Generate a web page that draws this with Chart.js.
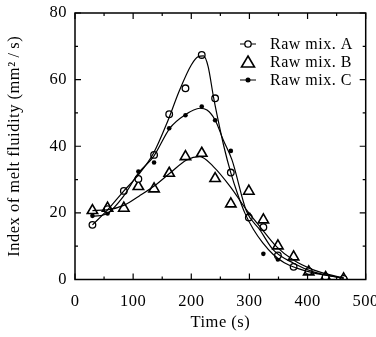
<!DOCTYPE html>
<html><head><meta charset="utf-8">
<script src="https://cdn.jsdelivr.net/npm/chart.js@4/dist/chart.umd.min.js"></script>
<style>html,body{margin:0;padding:0;background:#fff}#wrap{width:376px;height:337px}</style>
</head><body><div id="wrap"><canvas id="c" width="376" height="337"></canvas></div>
<script>
// Measured sample times (s)
const times = [30, 56, 84, 109, 136, 162, 190, 218, 241, 268, 299, 324, 349, 376, 402, 431, 462];
// Index of melt fluidity (mm^2/s) markers
const rawA = [16.4, 21.1, 26.6, 30.2, 37.4, 49.6, 57.4, 67.4, 54.4, 32.1, 18.6, 15.7, 7.2, 3.8, 2.5, 0.8, 0.2];
const rawB = [20.7, 21.4, 21.4, 27.9, 27.2, 31.9, 36.9, 37.9, 30.3, 22.7, 26.5, 17.9, 10.1, 6.8, 2.3, 0.6, 0.2];
const rawC = [19.1, 19.8, 26.5, 32.4, 35.1, 45.4, 49.3, 51.9, 47.8, 38.6, 19.5, 7.7, 6.0, 4.2, 2.5, 1.0, 0.3];
// Fitted curves
const fitAx = [30, 56, 83, 109, 135, 158, 180, 200, 212, 221, 229, 238, 246, 256, 268, 280, 292, 307, 323, 341, 360, 380, 410, 440, 462];
const fitAy = [16.4, 20.9, 26.4, 31.4, 37.9, 46.9, 56.9, 64.4, 66.9, 67.1, 63.9, 55.0, 48.0, 40.0, 32.0, 25.5, 20.0, 15.0, 11.0, 7.5, 5.0, 3.5, 2.0, 1.0, 0.4];
const fitBx = [30, 55, 86, 110, 135, 163, 192, 215, 238, 267, 295, 318, 347, 375, 410, 462];
const fitBy = [20.7, 20.9, 22.4, 25.0, 27.9, 31.9, 35.9, 36.9, 33.9, 27.9, 20.9, 15.9, 9.8, 5.9, 2.9, 0.4];
const fitCx = [30, 56, 83, 109, 135, 163, 189, 215, 227, 241, 255, 270, 295, 318, 341, 376, 410, 462];
const fitCy = [18.9, 19.9, 24.9, 31.9, 36.9, 45.4, 49.4, 51.4, 50.9, 47.9, 41.9, 35.9, 20.5, 14.9, 8.9, 4.9, 2.3, 0.4];
const legendLabels = ["Raw mix. A", "Raw mix. B", "Raw mix. C"];
const xTicks = [0, 100, 200, 300, 400, 500];
const yTicks = [0, 20, 40, 60, 80];

const FONT = "'Liberation Serif', 'DejaVu Serif', serif";
const pts = (xs, ys) => xs.map((x, i) => ({x, y: ys[i]}));

const spacing = {
  id: 'spacing',
  beforeDraw(chart) { chart.ctx.letterSpacing = '0.5px'; },
  afterDraw(chart) { chart.ctx.letterSpacing = '0px'; }
};

const frame = {
  id: 'frame',
  afterDatasetsDraw(chart) {
    const {ctx, chartArea: a, scales: {x, y}} = chart;
    ctx.save();
    ctx.strokeStyle = '#000';
    ctx.lineWidth = 1.5;
    ctx.strokeRect(a.left, a.top, a.right - a.left, a.bottom - a.top);
    ctx.lineWidth = 1.2;
    ctx.beginPath();
    for (let v = 0; v <= 500; v += 50) {
      const px = x.getPixelForValue(v);
      const L = (v % 100 === 0) ? 6 : 3;
      ctx.moveTo(px, a.bottom); ctx.lineTo(px, a.bottom - L);
      ctx.moveTo(px, a.top); ctx.lineTo(px, a.top + L);
    }
    for (let v = 0; v <= 80; v += 10) {
      const py = y.getPixelForValue(v);
      const L = (v % 20 === 0) ? 6 : 3;
      ctx.moveTo(a.left, py); ctx.lineTo(a.left + L, py);
      ctx.moveTo(a.right, py); ctx.lineTo(a.right - L, py);
    }
    ctx.stroke();
    // legend
    const lx = 248, ly = [44, 62, 80];
    ctx.font = "16px " + FONT;
    ctx.fillStyle = '#000';
    ctx.textBaseline = 'middle';
    ctx.textAlign = 'left';
    legendLabels.forEach((t, i) => {
      const yy = ly[i];
      ctx.lineWidth = 1;
      if (i !== 1) {
        ctx.beginPath(); ctx.moveTo(lx - 8, yy); ctx.lineTo(lx + 8, yy); ctx.stroke();
      }
      ctx.beginPath();
      if (i === 0) { ctx.arc(lx, yy, 3.2, 0, Math.PI * 2); ctx.fillStyle = '#fff'; ctx.fill(); ctx.lineWidth = 1.3; ctx.stroke(); }
      if (i === 1) { ctx.moveTo(lx, yy - 6); ctx.lineTo(lx + 6.5, yy + 5); ctx.lineTo(lx - 6.5, yy + 5); ctx.closePath(); ctx.lineWidth = 1.6; ctx.stroke(); }
      if (i === 2) { ctx.arc(lx, yy, 2.5, 0, Math.PI * 2); ctx.fillStyle = '#000'; ctx.fill(); }
      ctx.fillStyle = '#000';
      ctx.fillText(t, 270, yy + 1);
    });
    ctx.restore();
  }
};

new Chart(document.getElementById('c'), {
  type: 'scatter',
  data: {
    datasets: [
      {data: pts(fitAx, fitAy), showLine: true, pointRadius: 0, borderColor: '#000', borderWidth: 1.2, cubicInterpolationMode: 'monotone'},
      {data: pts(fitBx, fitBy), showLine: true, pointRadius: 0, borderColor: '#000', borderWidth: 1.2, cubicInterpolationMode: 'monotone'},
      {data: pts(fitCx, fitCy), showLine: true, pointRadius: 0, borderColor: '#000', borderWidth: 1.2, cubicInterpolationMode: 'monotone'},
      {label: legendLabels[0], data: pts(times, rawA), showLine: false, pointStyle: 'circle', pointRadius: 3.3, pointBackgroundColor: '#fff', pointBorderColor: '#000', pointBorderWidth: 1.3},
      {label: legendLabels[1], data: pts(times, rawB), showLine: false, pointStyle: 'triangle', pointRadius: 6, pointBackgroundColor: 'rgba(255,255,255,0)', pointBorderColor: '#000', pointBorderWidth: 1.6},
      {label: legendLabels[2], data: pts(times, rawC), showLine: false, pointStyle: 'circle', pointRadius: 2.3, pointBackgroundColor: '#000', pointBorderColor: '#000', pointBorderWidth: 0}
    ]
  },
  options: {
    responsive: false,
    animation: false,
    events: [],
    layout: {padding: {top: 13, right: 10.3, left: 0, bottom: 0}},
    plugins: {legend: {display: false}, tooltip: {enabled: false}},
    scales: {
      x: {
        type: 'linear', min: 0, max: 500,
        afterBuildTicks: s => { s.ticks = xTicks.map(v => ({value: v})); },
        afterFit: s => { s.height = 57.5; s.paddingLeft = 0; s.paddingRight = 0; },
        grid: {display: false, drawTicks: false},
        border: {display: false},
        ticks: {color: '#000', padding: 12, maxRotation: 0, font: {family: FONT, size: 16.5}},
        title: {display: true, text: 'Time (s)', color: '#000', padding: {top: 2, bottom: 4}, font: {family: FONT, size: 16.5}}
      },
      y: {
        type: 'linear', min: 0, max: 80,
        afterBuildTicks: s => { s.ticks = yTicks.map(v => ({value: v})); },
        afterFit: s => { s.width = 75; s.paddingTop = 0; s.paddingBottom = 0; },
        grid: {display: false, drawTicks: false},
        border: {display: false},
        ticks: {color: '#000', padding: 8, font: {family: FONT, size: 16.5}},
        title: {display: true, text: 'Index of melt fluidity (mm\u00B2\u2009/\u2009s)', color: '#000', padding: {top: 5, bottom: 0}, font: {family: FONT, size: 16.5}}
      }
    }
  },
  plugins: [spacing, frame]
});
</script></body></html>
